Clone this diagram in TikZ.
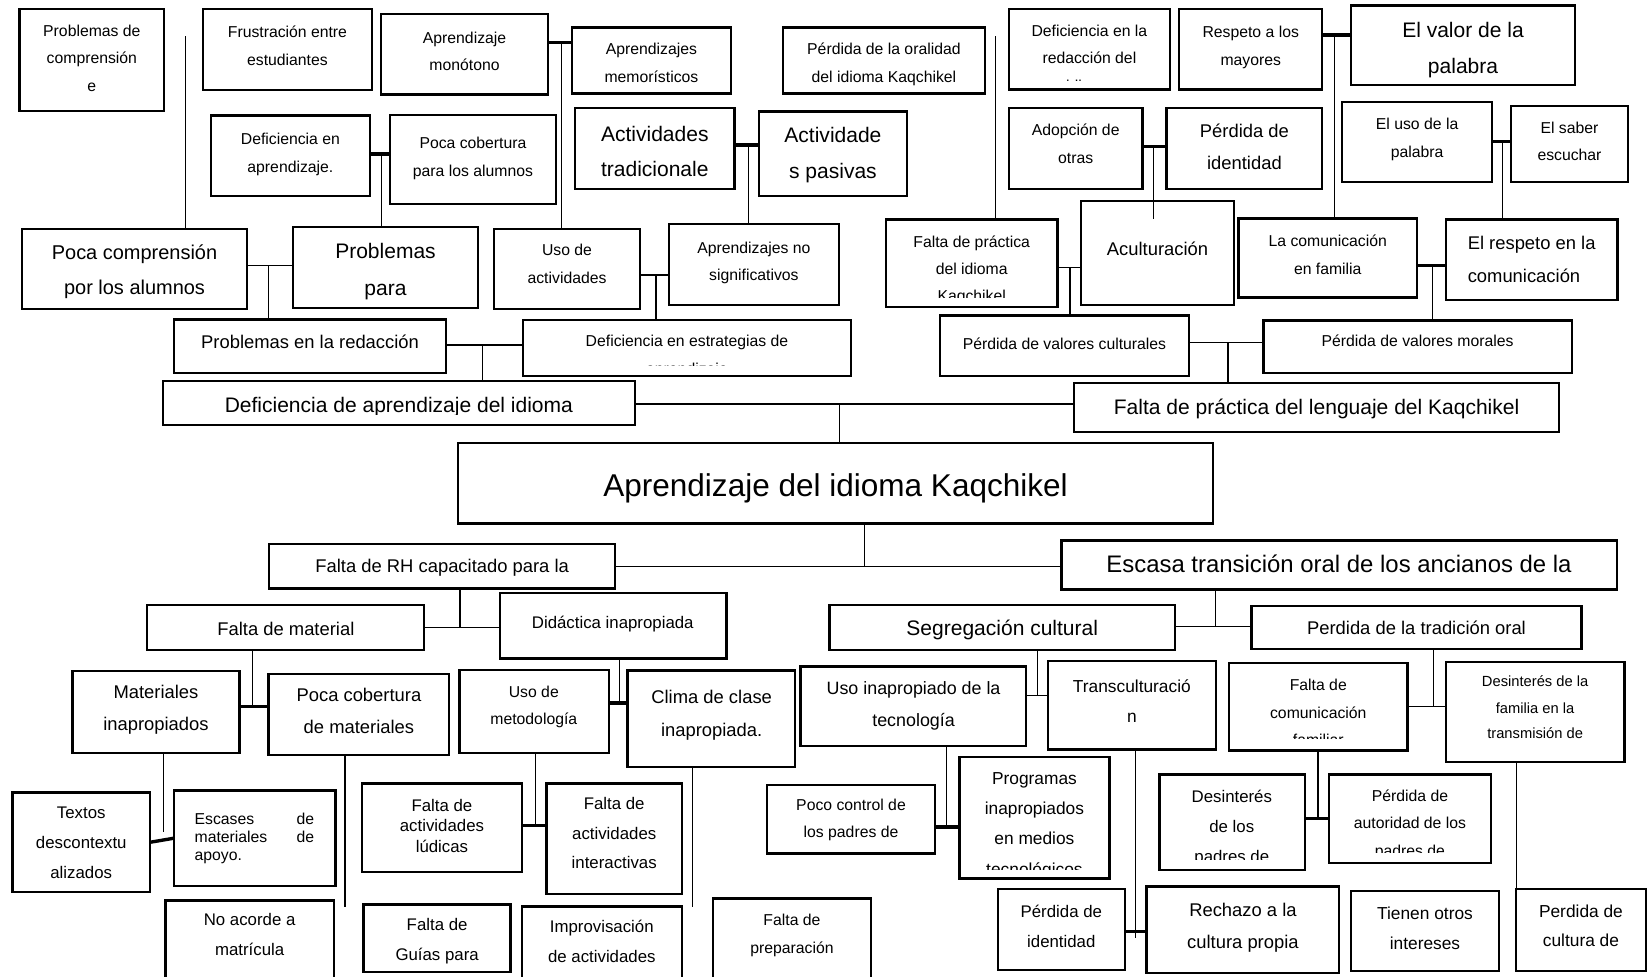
\documentclass[tikz,border=0pt]{standalone}
\usepackage{fontspec}
\setmainfont{Liberation Sans}
\usetikzlibrary{fit}
\newcounter{tn}
\def\tsf{0.23}
\tikzset{
  bx/.style={draw, line width=2.3pt, inner sep=0pt, outer sep=0pt},
  ln/.style={line width=1.1pt},
  tk/.style={line width=3.2pt},
  txt/.style={anchor=mid, inner sep=0pt, outer sep=0pt, yshift={-\tsf*#1 pt}, font=\fontsize{#1}{#1}\selectfont},
}
\newcommand\B[5]{\node[bx, fit={(#2,#3)(#4,#5)}] (#1) {};}
\newcommand\T[4][15]{\stepcounter{tn}\node[txt=#1] (t\arabic{tn}) at (#2,#3) {#4};}
\begin{document}
\begin{tikzpicture}[x=1pt,y=-1pt]
\fill[white] (0,0) rectangle (1568,929);
\useasboundingbox (0,0) rectangle (1568,929);

% ---------------- top half ----------------
\B{a1}{18.7}{8.6}{156}{105.6}
\T{87.4}{28.5}{Problemas de}\T{87.4}{54.6}{comprensión}\T{87.4}{81}{e}
\B{a2}{193}{8.6}{354}{85.6}
\T{273.5}{30}{Frustración entre}\T{273.5}{56}{estudiantes}
\B{a3}{362.6}{13.3}{521.6}{89.8}
\T{442}{35}{Aprendizaje}\T{442}{61}{monótono}
\B{a4}{544}{26.3}{695.5}{89}
\T{619.8}{46}{Aprendizajes}\T{619.8}{72}{memorísticos}
\B{a5}{745}{26.3}{937}{89}
\T{841}{46}{Pérdida de la oralidad}\T{841}{72}{del idioma Kaqchikel}
\B{a6}{200.5}{110}{352}{186.5}
\T{276.3}{131}{Deficiencia en}\T{276.3}{157.6}{aprendizaje.}
\B{a7}{371}{109.4}{529}{194}
\T{450}{134.8}{Poca cobertura}\T{450}{161.7}{para los alumnos}
\B{a8}{547}{103}{699}{180}
\T[20]{623}{127}{Actividades}\T[20]{623}{160.5}{tradicionale}
\B{a9}{722}{106}{863}{186.5}
\T[20]{792.5}{128.5}{Actividade}\T[20]{792.5}{163}{s pasivas}

\B{c1}{960}{8.6}{1113}{85}
\T{1036.5}{28.5}{Deficiencia en la}\T{1036.5}{54.6}{redacción del}
\begin{scope}\clip (960,8.6) rectangle (1113,76.5);\T{1036.5}{80.7}{idioma}\end{scope}
\B{c2}{1122}{8.6}{1258}{85}
\T{1190}{30}{Respeto a los}\T{1190}{56}{mayores}
\B{c3}{1285.6}{5.4}{1498.6}{81}
\T[20]{1392}{28}{El valor de la}\T[20]{1392}{62.5}{palabra}
\B{c4}{960}{103}{1087}{180}
\T{1023.5}{123}{Adopción de}\T{1023.5}{149}{otras}
\B{c5}{1110}{103}{1258}{180}
\T[17.5]{1184}{124}{Pérdida de}\T[17.5]{1184}{155}{identidad}
\B{c6}{1277}{97}{1419.6}{173}
\T{1348.3}{117}{El uso de la}\T{1348.3}{144}{palabra}
\B{c7}{1437.6}{101}{1549}{173}
\T{1493.3}{120.5}{El saber}\T{1493.3}{147}{escuchar}

\B{b1}{21}{218}{235}{294}
\T[19]{128}{240}{Poca comprensión}\T[19]{128}{273}{por los alumnos}
\B{b2}{279}{216}{454.7}{293}
\T[20]{366.8}{239}{Problemas}\T[20]{366.8}{274}{para}
\B{b3}{470}{218}{609}{294}
\T{539.5}{237}{Uso de}\T{539.5}{264}{actividades}
\B{b4}{636.6}{213}{798}{290}
\T{717.3}{235}{Aprendizajes no}\T{717.3}{261}{significativos}

\B{d1}{843}{209}{1006}{292}
\T{924.5}{229}{Falta de práctica}\T{924.5}{255}{del idioma}
\begin{scope}\clip (843,209) rectangle (1006,283);\T{924.5}{281}{Kaqchikel}\end{scope}
\B{d2}{1028.6}{191}{1174}{290}
\T[17.5]{1101.3}{236}{Aculturación}
\B{d3}{1178.5}{207.7}{1348}{283}
\T{1263.3}{228.4}{La comunicación}\T{1263.3}{254.7}{en familia}
\B{d4}{1376}{209}{1539}{285.5}
\node[txt=17.5, anchor=mid west] (d4t1) at (1396.5,231) {El respeto en la};
\node[txt=17.5, anchor=mid west] (d4t2) at (1396.5,261.7) {comunicación};

\B{e1}{165.5}{304}{424.6}{355}
\T[17.5]{295}{325}{Problemas en la redacción}
\B{e2}{497.6}{304.5}{809.7}{358}
\T{653.6}{324}{Deficiencia en estrategias de}
\begin{scope}\clip (497.6,304.5) rectangle (809.7,348);\T{653.6}{350}{aprendizaje}\end{scope}
\B{e3}{894.6}{300}{1131}{358}
\T{1012.8}{326}{Pérdida de valores culturales}
\B{e4}{1202}{305}{1495.6}{355}
\T{1348.8}{324}{Pérdida de valores morales}

\B{f1}{155}{362.5}{604}{404.4}
\begin{scope}\clip (155,362.5) rectangle (604,394.5);\T[20]{379.5}{385.4}{Deficiencia de aprendizaje del idioma}\end{scope}
\B{f2}{1022}{364.6}{1483.5}{411}
\T[20]{1252.7}{387.5}{Falta de práctica del lenguaje del Kaqchikel}

\B{g}{436}{421.7}{1154}{498}
\T[30]{795}{462.5}{Aprendizaje del idioma Kaqchikel}

% top connectors
\coordinate (b1up) at (176.4,34.3);
\draw[ln] (b1.north -| b1up) -- (b1up);
\coordinate (ja) at (534.4,40.3);
\draw[tk] (a3.east |- ja) -- (a4.west |- ja);
\draw[ln] (ja) -- (ja |- b3.north);
\coordinate (jb) at (362.9,146.5);
\draw[tk] (a6.east |- jb) -- (a7.west |- jb);
\draw[ln] (jb) -- (jb |- b2.north);
\coordinate (jc) at (712,138);
\draw[tk] (a8.east |- jc) -- (a9.west |- jc);
\draw[ln] (jc) -- (jc |- b4.north);
\coordinate (d1up) at (947.5,34.3);
\draw[ln] (d1.north -| d1up) -- (d1up);
\coordinate (jd) at (1269.3,33.3);
\draw[tk] (c2.east |- jd) -- (c3.west |- jd);
\draw[ln] (jd) -- (jd |- d3.north);
\coordinate (je) at (1097.6,139.5);
\coordinate (jeend) at (1097.6,208.7);
\draw[tk] (c4.east |- je) -- (c5.west |- je);
\draw[ln] (je) -- (jeend);
\coordinate (jf) at (1429.7,134.8);
\draw[tk] (c6.east |- jf) -- (c7.west |- jf);
\draw[ln] (jf) -- (jf |- d4.north);
\coordinate (jg) at (255.5,252.8);
\draw[ln] (b1.east |- jg) -- (b2.west |- jg);
\draw[ln] (jg) -- (jg |- e1.north);
\coordinate (jh) at (624.2,261.6);
\draw[ln] (b3.east |- jh) -- (b4.west |- jh);
\draw[ln] (jh) -- (jh |- e2.north);
\coordinate (ji) at (1018,254.7);
\draw[ln] (d1.east |- ji) -- (d2.west |- ji);
\draw[ln] (ji) -- (ji |- e3.north);
\coordinate (jj) at (1363.2,252.8);
\draw[tk] (d3.east |- jj) -- (d4.west |- jj);
\draw[ln] (jj) -- (jj |- e4.north);
\coordinate (jk) at (459.4,328.3);
\draw[ln] (e1.east |- jk) -- (e2.west |- jk);
\draw[ln] (jk) -- (jk |- f1.north);
\coordinate (jl) at (1168.3,326);
\draw[ln] (e3.east |- jl) -- (e4.west |- jl);
\draw[ln] (jl) -- (jl |- f2.north);
\coordinate (jm) at (798.6,384.4);
\draw[ln] (f1.east |- jm) -- (f2.west |- jm);
\draw[ln] (jm) -- (jm |- g.north);

% ---------------- bottom half ----------------
\def\tsf{0.17}
\B{h1}{256}{517.5}{585.4}{560}
\T[17.5]{420.7}{539.5}{Falta de RH capacitado para la}
\B{h2}{1010}{514.4}{1538.5}{561}
\T[22.75]{1274}{538.5}{Escasa transición oral de los ancianos de la}

\B{i1}{140}{575.6}{403.2}{618.5}
\T[17.5]{272}{599}{Falta de material}
\B{i2}{475.5}{564}{691.4}{626.4}
\T[16]{583}{592.6}{Didáctica inapropiada}
\B{i3}{789.3}{575.6}{1117.9}{618.5}
\T[20]{953.6}{598.5}{Segregación cultural}
\B{i4}{1190.6}{576.3}{1504.9}{617.7}
\T[17.5]{1347.7}{598.4}{Perdida de la tradición oral}

\def\tsf{0.11}
\B{j1}{69}{638.5}{227.7}{716.3}
\T[17.5]{148.4}{660.2}{Materiales}\T[17.5]{148.4}{690.8}{inapropiados}
\B{j2}{255.5}{641}{427.3}{718.3}
\T[17.5]{341.5}{663}{Poca cobertura}\T[17.5]{341.5}{693.5}{de materiales}
\B{j3}{437}{637.5}{579.5}{716.3}
\T{507.9}{658.9}{Uso de}\T{507.9}{685}{metodología}
\B{j4}{597.2}{638}{756.5}{729.9}
\T[17.5]{677.1}{664.6}{Clima de clase}\T[17.5]{677.1}{695.9}{inapropiada.}
\B{j5}{761.6}{634}{976.4}{709.5}
\T[17]{869.2}{656.1}{Uso inapropiado de la}\T[17]{869.2}{686.7}{tecnología}
\B{j6}{996.9}{629}{1157}{713}
\T[16.5]{1076.9}{654.4}{Transculturació}\T[16.5]{1076.9}{683.3}{n}
\B{j7}{1169.5}{631}{1339.2}{713.9}
\T{1254.3}{652.7}{Falta de}\T{1254.3}{678.9}{comunicación}
\begin{scope}\clip (1169.5,632.4) rectangle (1339.2,703);\T{1254.3}{705.1}{familiar}\end{scope}
\B{j8}{1375.8}{629.6}{1545.5}{724.8}
\T[14]{1460.6}{649.3}{Desinterés de la}\T[14]{1460.6}{674.2}{familia en la}\T[14]{1460.6}{698.6}{transmisión de}

\def\tsf{0.04}
\B{k1}{11.9}{754}{142.7}{848.8}
\T[16]{77.3}{775.7}{Textos}\T[16]{77.3}{804}{descontextu}\T[16]{77.3}{832.8}{alizados}
\B{k2}{165.5}{752}{319.4}{843}
\node[txt=15, anchor=mid west] (k2a) at (185.2,781) {Escases};
\node[txt=15, anchor=mid east] (k2b) at (299,781) {de};
\node[txt=15, anchor=mid west] (k2c) at (185.2,798) {materiales};
\node[txt=15, anchor=mid east] (k2d) at (299,798) {de};
\node[txt=15, anchor=mid west] (k2e) at (185.2,815) {apoyo.};
\B{k3}{344.2}{745.5}{496.8}{829.4}
\T[16]{420.5}{769}{Falta de}\T[16]{420.5}{788}{actividades}\T[16]{420.5}{807.4}{lúdicas}
\B{k4}{520}{745.5}{648.7}{850.5}
\T[16]{584.4}{766.6}{Falta de}\T[16]{584.4}{795.5}{actividades}\T[16]{584.4}{823.3}{interactivas}
\B{k5}{730}{747}{889.5}{812}
\T{809.7}{768.3}{Poco control de}\T{809.7}{793.8}{los padres de}
\B{k6}{913}{720.5}{1055.5}{836}
\T[16.5]{984.2}{742.8}{Programas}\T[16.5]{984.2}{771.7}{inapropiados}\T[16.5]{984.2}{800.5}{en medios}
\begin{scope}\clip (913,721.5) rectangle (1055.5,827.5);\T[16.5]{984.2}{829.3}{tecnológicos}\end{scope}
\B{k7}{1103}{737}{1241.5}{828}
\T[16]{1172}{759.8}{Desinterés}\T[16]{1172}{788.7}{de los}
\begin{scope}\clip (1103,737) rectangle (1241.5,818);\T[16]{1172}{817.6}{padres de}\end{scope}
\B{k8}{1264.5}{737}{1418.5}{821}
\T{1341.5}{759.1}{Pérdida de}\T{1341.5}{785.3}{autoridad de los}
\begin{scope}\clip (1264.5,737) rectangle (1418.5,811.3);\T{1341.5}{811.5}{padres de}\end{scope}

\B{l1}{157.3}{856.6}{317.7}{945}
\T[16]{237.5}{877}{No acorde a}\T[16]{237.5}{905.9}{matrícula}
\B{l2}{345.9}{860.7}{485.9}{925}
\T[16]{415.9}{882.1}{Falta de}\T[16]{415.9}{911}{Guías para}
\B{l3}{496.6}{862.4}{648.7}{945}
\T[16]{572.6}{883.8}{Improvisación}\T[16]{572.6}{912.7}{de actividades}
\B{l4}{678.6}{855}{828.5}{945}
\T{753.5}{877.7}{Falta de}\T{753.5}{903.5}{preparación}
\B{l5}{949.5}{846}{1070.2}{923}
\T[16]{1009.8}{869.5}{Pérdida de}\T[16]{1009.8}{898}{identidad}
\B{l6}{1091}{843.5}{1274.2}{926}
\T[17.5]{1182.6}{868.5}{Rechazo a la}\T[17.5]{1182.6}{899}{cultura propia}
\B{l7}{1285.4}{848}{1426.1}{924}
\T[16.5]{1355.8}{871.9}{Tienen otros}\T[16.5]{1355.8}{900.1}{intereses}
\B{l8}{1442.5}{846}{1566}{924}
\T[16.5]{1504.2}{869.2}{Perdida de}\T[16.5]{1504.2}{897.4}{cultura de}

% bottom connectors
\coordinate (gh) at (822.8,539);
\draw[ln] (gh |- g.south) -- (gh);
\draw[ln] (h1.east |- gh) -- (h2.west |- gh);
\coordinate (hi) at (437.6,597);
\draw[ln] (hi |- h1.south) -- (hi);
\draw[ln] (i1.east |- hi) -- (i2.west |- hi);
\coordinate (hj) at (1156.6,595.7);
\draw[ln] (hj |- h2.south) -- (hj);
\draw[ln] (i3.east |- hj) -- (i4.west |- hj);
\coordinate (ij) at (240.6,672.1);
\draw[ln] (ij |- i1.south) -- (ij);
\draw[tk] (j1.east |- ij) -- (j2.west |- ij);
\coordinate (ij2) at (589.3,669);
\draw[ln] (ij2 |- i2.south) -- (ij2);
\draw[tk] (j3.east |- ij2) -- (j4.west |- ij2);
\coordinate (ij3) at (987.3,662);
\draw[ln] (ij3 |- i3.south) -- (ij3);
\draw[ln] (j5.east |- ij3) -- (j6.west |- ij3);
\coordinate (ij4) at (1364,672.5);
\draw[ln] (ij4 |- i4.south) -- (ij4);
\draw[ln] (j7.east |- ij4) -- (j8.west |- ij4);
\coordinate (jk1) at (155.6,792);
\draw[ln] (jk1 |- j1.south) -- (jk1);
\draw[tk] (k1.east) -- (k2.west);
\coordinate (jk2) at (509.5,785.3);
\draw[ln] (jk2 |- j3.south) -- (jk2);
\draw[tk] (k3.east |- jk2) -- (k4.west |- jk2);
\coordinate (jk3) at (900.3,787);
\draw[ln] (jk3 |- j5.south) -- (jk3);
\draw[tk] (k5.east |- jk3) -- (k6.west |- jk3);
\coordinate (jk4) at (1254,779);
\draw[ln] (jk4 |- j7.south) -- (jk4);
\draw[tk] (k7.east |- jk4) -- (k8.west |- jk4);
\coordinate (j2e) at (328.2,863.4);
\draw[ln] (j2e |- j2.south) -- (j2e);
\coordinate (j4e) at (658.9,863.4);
\draw[ln] (j4e |- j4.south) -- (j4e);
\coordinate (jl1) at (1080.6,892.3);
\draw[ln] (jl1 |- j6.south) -- (jl1);
\draw[tk] (l5.east |- 0,886.2) -- (l6.west |- 0,886.2);
\draw[ln] (j8.south -| l8.north west) -- (l8.north west);
\end{tikzpicture}
\end{document}
